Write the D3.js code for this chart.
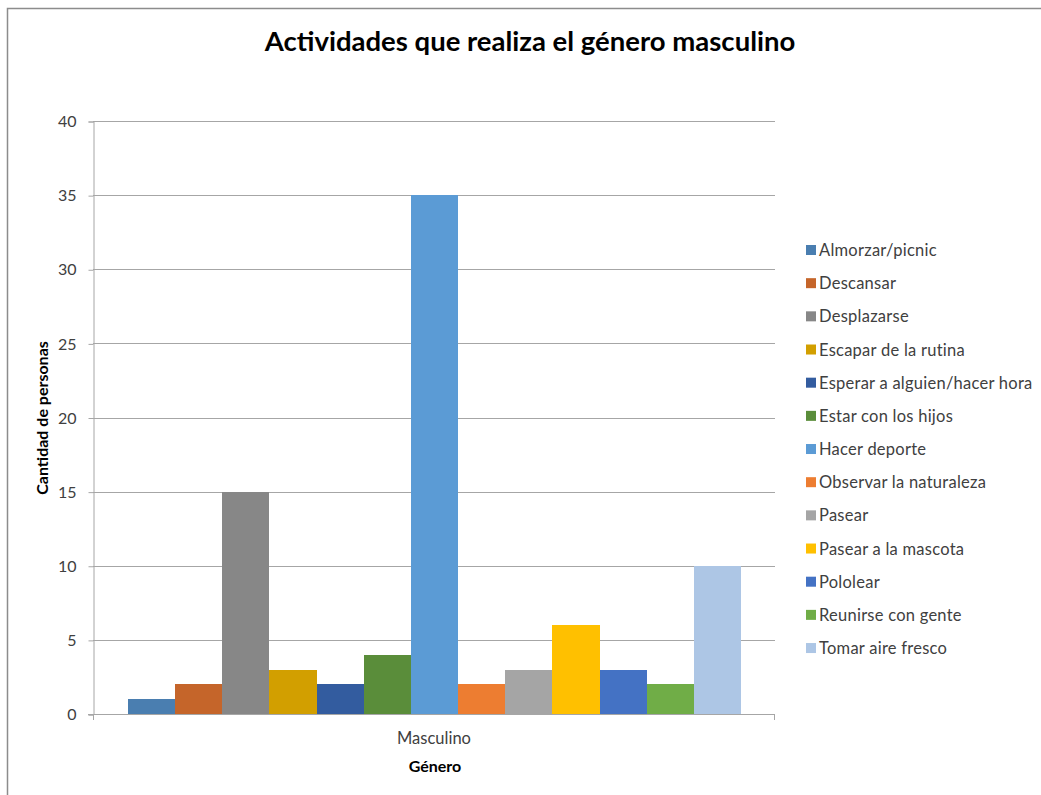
<!DOCTYPE html>
<html><head><meta charset="utf-8">
<script src="https://cdn.jsdelivr.net/npm/d3@7"></script>
<style>body{margin:0;background:#fff;} svg{display:block;}</style>
</head><body>
<svg id="c" width="1041" height="795"></svg>
<script>
const categories = ["Masculino"];
const seriesNames = ["Almorzar/picnic","Descansar","Desplazarse","Escapar de la rutina","Esperar a alguien/hacer hora","Estar con los hijos","Hacer deporte","Observar la naturaleza","Pasear","Pasear a la mascota","Pololear","Reunirse con gente","Tomar aire fresco"];
const seriesValues = [1,2,15,3,2,4,35,2,3,6,3,2,10];
const seriesColors = ["#4a7eb0","#c5652a","#878787","#d29f00","#335c9f","#5a8d3a","#5b9bd5","#ed7d31","#a5a5a5","#ffc000","#4472c4","#70ad47","#adc6e5"];
const yTicks = [0,5,10,15,20,25,30,35,40];

const font = "Lato, 'Open Sans', sans-serif";
const svg = d3.select("#c");
svg.append("rect").attr("width",1041).attr("height",795).attr("fill","#fff");
svg.append("path").attr("d","M7.5,795 V8.5 H1041").attr("fill","none").attr("stroke","#8c8c8c").attr("stroke-width",1.5);

const L=93, R=775, T=121, B=714;
const y = d3.scaleLinear().domain([0,40]).range([B,T]);
const x0 = d3.scaleBand().domain(categories).range([L,R]).paddingInner(0).paddingOuter(0);
const inner = 35;
const x1 = d3.scaleBand().domain(seriesNames).range([x0("Masculino")+inner, x0("Masculino")+x0.bandwidth()-inner+1]).padding(0);

// gridlines
svg.append("g").selectAll("line").data(yTicks.filter(d=>d>0)).join("line")
  .attr("x1",L).attr("x2",R).attr("y1",d=>Math.round(y(d))+0.5).attr("y2",d=>Math.round(y(d))+0.5)
  .attr("stroke","#a6a6a6").attr("stroke-width",1);

// y axis
const yAxis = d3.axisLeft(y).tickValues(yTicks).tickSize(5).tickPadding(12);
const gy = svg.append("g").attr("transform",`translate(${L+0.5},0.5)`).call(yAxis);
gy.select(".domain").attr("stroke","#a6a6a6");
gy.selectAll(".tick line").attr("stroke","#a6a6a6");
gy.selectAll("text").attr("font-family",font).attr("font-size",16).attr("fill","#404040");

// bars
svg.append("g").selectAll("rect").data(seriesNames.map((n,i)=>({n,v:seriesValues[i],c:seriesColors[i]}))).join("rect")
  .attr("x",d=>Math.round(x1(d.n))).attr("width",d=>Math.round(x1(d.n)+x1.bandwidth())-Math.round(x1(d.n)))
  .attr("y",d=>Math.round(y(d.v))).attr("height",d=>B-Math.round(y(d.v))).attr("fill",d=>d.c)
  .attr("shape-rendering","crispEdges");

// x axis
const xAxis = d3.axisBottom(x0).tickSize(0).tickPadding(18);
const gx = svg.append("g").attr("transform",`translate(0,${B+0.5})`).call(xAxis);
gx.select(".domain").attr("stroke","#a6a6a6").attr("d",`M${L-5},0H${R}`);
gx.selectAll("text").attr("font-family",font).attr("font-size",16.5).attr("fill","#404040")
  .attr("x",0);
svg.append("line").attr("x1",L+0.5).attr("x2",L+0.5).attr("y1",B).attr("y2",B+6).attr("stroke","#a6a6a6");
svg.append("line").attr("x1",R-0.5).attr("x2",R-0.5).attr("y1",B).attr("y2",B+6).attr("stroke","#a6a6a6");

// titles
svg.append("text").attr("x",530).attr("y",51).attr("text-anchor","middle")
  .attr("font-family",font).attr("font-weight","bold").attr("font-size",27.5).attr("fill","#000")
  .text("Actividades que realiza el género masculino");
svg.append("text").attr("x",435).attr("y",772).attr("text-anchor","middle")
  .attr("font-family",font).attr("font-weight","bold").attr("font-size",16).attr("fill","#000")
  .text("Género");
svg.append("text").attr("transform","translate(48,418) rotate(-90)").attr("text-anchor","middle")
  .attr("font-family",font).attr("font-weight","bold").attr("font-size",16).attr("fill","#000")
  .text("Cantidad de personas");

// legend
const lg = svg.append("g").selectAll("g").data(seriesNames).join("g")
  .attr("transform",(d,i)=>`translate(806,${250+i*33.17})`);
lg.append("rect").attr("x",0).attr("y",-5).attr("width",10).attr("height",10)
  .attr("fill",(d,i)=>seriesColors[i]);
lg.append("text").attr("x",13).attr("y",6).attr("font-family",font).attr("font-size",16.5)
  .attr("letter-spacing",0.25).attr("fill","#404040").text(d=>d);
</script>
</body></html>
